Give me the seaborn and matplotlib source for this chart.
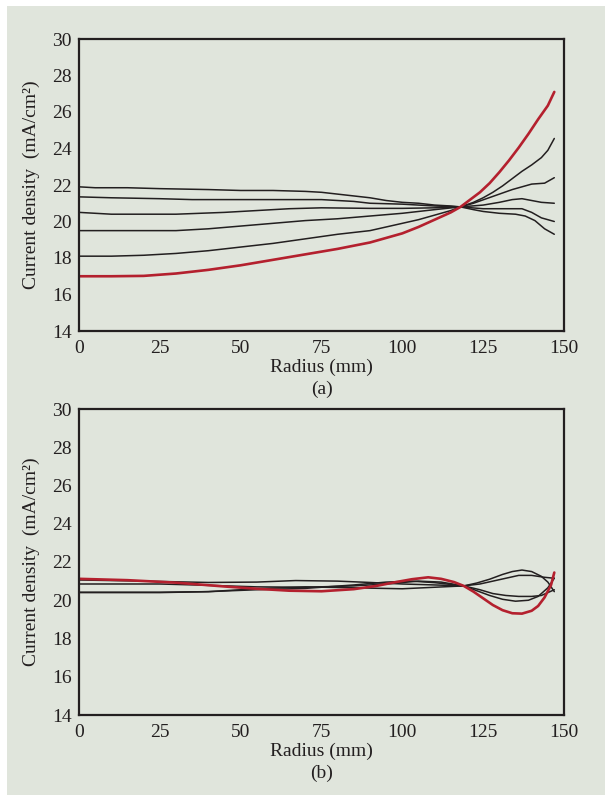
import numpy as np
import pandas as pd
import seaborn as sns
import matplotlib.pyplot as plt
from matplotlib.patches import Rectangle

# ---- data (radius in mm, current density in mA/cm2) ----
# panel (a): six profiles, red one is the bare (uncompensated) case
a_red_r = [0, 10, 20, 30, 40, 50, 60, 70, 80, 90, 95, 100, 105, 110, 115, 118, 121, 124, 127,
           130, 133, 136, 139, 142, 145, 147]
a_red_j = [17.0, 17.0, 17.02, 17.15, 17.35, 17.6, 17.9, 18.2, 18.5, 18.85, 19.1, 19.35, 19.7,
           20.1, 20.5, 20.8, 21.2, 21.6, 22.1, 22.7, 23.35, 24.05, 24.8, 25.6, 26.35, 27.1]

a_r1 = [0, 5, 15, 25, 40, 50, 60, 70, 75, 80, 85, 90, 95, 100, 105, 110, 115, 118, 122, 125,
        130, 135, 138, 141, 144, 147]
a_j1 = [21.9, 21.85, 21.85, 21.8, 21.75, 21.7, 21.7, 21.65, 21.6, 21.5, 21.4, 21.3, 21.15,
        21.05, 21.0, 20.9, 20.85, 20.8, 20.65, 20.55, 20.45, 20.4, 20.3, 20.05, 19.6, 19.3]

a_r2 = [0, 10, 25, 35, 50, 75, 80, 85, 90, 100, 110, 118, 125, 132, 137, 140, 143, 147]
a_j2 = [21.35, 21.3, 21.25, 21.2, 21.2, 21.2, 21.15, 21.1, 21.0, 20.95, 20.85, 20.8, 20.7,
        20.7, 20.7, 20.5, 20.2, 20.0]

a_r3 = [0, 5, 10, 30, 45, 55, 65, 75, 90, 100, 110, 118, 125, 130, 134, 137, 140, 143, 147]
a_j3 = [20.5, 20.45, 20.4, 20.4, 20.5, 20.6, 20.7, 20.75, 20.72, 20.72, 20.75, 20.8, 20.9,
        21.05, 21.2, 21.25, 21.15, 21.05, 21.0]

a_r4 = [0, 15, 30, 40, 50, 60, 70, 80, 90, 100, 110, 118, 122, 126, 130, 134, 137, 140, 144, 147]
a_j4 = [19.5, 19.5, 19.5, 19.6, 19.75, 19.9, 20.05, 20.15, 20.3, 20.45, 20.65, 20.8, 21.0,
        21.25, 21.5, 21.75, 21.9, 22.05, 22.1, 22.4]

a_r5 = [0, 10, 20, 30, 40, 50, 60, 70, 80, 90, 95, 100, 105, 110, 115, 118, 122, 125, 128,
        131, 134, 137, 140, 143, 145, 147]
a_j5 = [18.1, 18.1, 18.15, 18.25, 18.4, 18.6, 18.8, 19.05, 19.3, 19.5, 19.7, 19.9, 20.1,
        20.35, 20.6, 20.8, 21.05, 21.3, 21.6, 21.95, 22.35, 22.75, 23.1, 23.5, 23.9, 24.55]

# panel (b): same profiles after compensation
b_red_r = [0, 15, 30, 45, 55, 65, 75, 85, 92, 98, 103, 108, 112, 116, 119, 122, 125, 128, 131,
           134, 137, 140, 142, 144, 146, 147]
b_red_j = [21.12, 21.05, 20.92, 20.72, 20.6, 20.5, 20.47, 20.58, 20.75, 20.95, 21.1, 21.2,
           21.12, 20.95, 20.75, 20.45, 20.1, 19.75, 19.48, 19.32, 19.3, 19.45, 19.7, 20.15,
           20.8, 21.45]

b_r1 = [0, 20, 40, 55, 67, 80, 90, 100, 110, 119, 123, 127, 131, 134, 137, 140, 143, 145, 147]
b_j1 = [21.06, 21.0, 20.93, 20.95, 21.03, 21.0, 20.93, 20.85, 20.8, 20.75, 20.9, 21.1, 21.35,
        21.5, 21.58, 21.5, 21.25, 20.95, 20.45]

b_r2 = [0, 25, 40, 55, 70, 85, 95, 105, 112, 119, 124, 128, 132, 136, 140, 144, 147]
b_j2 = [20.85, 20.85, 20.78, 20.7, 20.68, 20.75, 20.85, 21.0, 20.95, 20.75, 20.85, 21.0,
        21.15, 21.3, 21.3, 21.2, 21.15]

b_r3 = [0, 25, 40, 55, 70, 85, 100, 110, 119, 123, 127, 131, 135, 139, 142, 145, 147]
b_j3 = [20.4, 20.4, 20.45, 20.6, 20.7, 20.65, 20.6, 20.68, 20.75, 20.5, 20.25, 20.05, 19.95,
        20.0, 20.2, 20.65, 21.15]

b_r4 = [0, 25, 40, 55, 70, 85, 95, 103, 110, 119, 124, 128, 132, 136, 140, 143, 145, 147]
b_j4 = [20.42, 20.42, 20.45, 20.55, 20.62, 20.8, 20.95, 21.0, 20.92, 20.75, 20.55, 20.35,
        20.25, 20.2, 20.2, 20.25, 20.4, 20.55]

x_ticks = [0, 25, 50, 75, 100, 125, 150]
y_ticks = [14, 16, 18, 20, 22, 24, 26, 28, 30]
panel_tags = ["(a)", "(b)"]

BG = "#e0e5dc"
RED = "#b4202e"
INK = "#231f20"
FS = 14


def to_frame(curves):
    rows = []
    for k, (r, j) in enumerate(curves):
        rows.append(pd.DataFrame({"r": r, "j": j, "curve": k}))
    return pd.concat(rows, ignore_index=True)


def draw_panel(ax, black, red_r, red_j):
    df = to_frame(black)
    sns.lineplot(data=df, x="r", y="j", units="curve", estimator=None,
                 color=INK, lw=1.1, sort=False, ax=ax)
    red = pd.DataFrame({"r": red_r, "j": red_j})
    sns.lineplot(data=red, x="r", y="j", color=RED, lw=1.9, sort=False, ax=ax)

    ax.set_facecolor(BG)
    ax.set_xlim(0, 150)
    ax.set_ylim(14, 30)
    ax.set_xticks(x_ticks)
    ax.set_yticks(y_ticks)
    ax.tick_params(direction="in", length=5, width=1.2, colors=INK,
                   labelsize=FS, pad=5, top=False, right=False)
    ax.tick_params(axis="x", pad=6.5)
    for s in ax.spines.values():
        s.set_color(INK)
        s.set_linewidth(1.6)
    ax.set_xlabel("Radius (mm)", fontsize=FS, color=INK, labelpad=1)
    ax.set_ylabel("Current density  (mA/cm²)", fontsize=FS, color=INK, labelpad=9)


def main():
    sns.set_theme(style="white")
    plt.rcParams["font.family"] = ["Liberation Serif", "DejaVu Serif"]

    fig = plt.figure(figsize=(6.05, 7.95), dpi=100)
    fig.patch.set_facecolor("white")
    fig.patches.append(Rectangle((7 / 605, 0), 1, 789 / 795, transform=fig.transFigure,
                                 facecolor=BG, edgecolor="none", zorder=-1))

    ax_a = fig.add_axes([79 / 605, 464 / 795, 485 / 605, 292 / 795])
    ax_b = fig.add_axes([79 / 605, 80 / 795, 485 / 605, 306 / 795])

    draw_panel(ax_a, [(a_r1, a_j1), (a_r2, a_j2), (a_r3, a_j3), (a_r4, a_j4), (a_r5, a_j5)],
               a_red_r, a_red_j)
    draw_panel(ax_b, [(b_r1, b_j1), (b_r2, b_j2), (b_r3, b_j3), (b_r4, b_j4)],
               b_red_r, b_red_j)

    fig.text(321.5 / 605, 1 - 389 / 795, panel_tags[0], ha="center", va="center",
             fontsize=FS, color=INK)
    fig.text(321.5 / 605, 1 - 773 / 795, panel_tags[1], ha="center", va="center",
             fontsize=FS, color=INK)

    fig.savefig("out.png", dpi=100)


if __name__ == "__main__":
    main()
